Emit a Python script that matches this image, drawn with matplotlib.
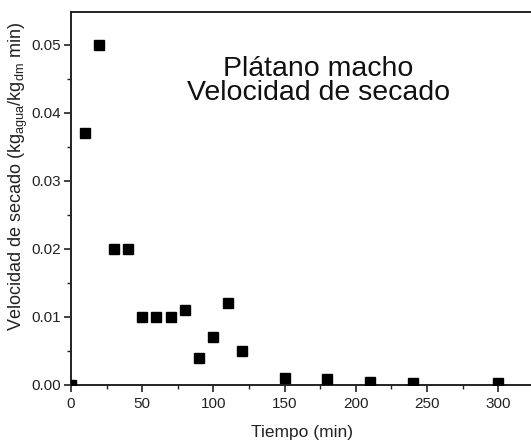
import matplotlib
matplotlib.use("Agg")
import matplotlib.pyplot as plt
from matplotlib.ticker import MultipleLocator, FormatStrFormatter

plt.rcParams['font.family'] = ['Liberation Sans', 'DejaVu Sans']

# Drying-rate data for plantain
tiempo = [0, 10, 20, 30, 40, 50, 60, 70, 80, 90, 100, 110, 120, 150, 180, 210, 240, 300]
velocidad = [0.0, 0.037, 0.050, 0.020, 0.020, 0.010, 0.010, 0.010, 0.011, 0.004,
             0.007, 0.012, 0.005, 0.001, 0.00084, 0.00044, 0.00034, 0.00025]

fig = plt.figure(figsize=(5.31, 4.41), dpi=100)
ax = fig.add_axes([71 / 531, 56 / 441, 1 - 71 / 531, (385 - 12) / 441])

ax.plot(tiempo, velocidad, linestyle='none', marker='s', markersize=6.5,
        color='black', clip_on=True, zorder=3)

ax.set_xlim(0, 323)
ax.set_ylim(0, 0.05485)

ax.xaxis.set_major_locator(MultipleLocator(50))
ax.xaxis.set_minor_locator(MultipleLocator(25))
ax.yaxis.set_major_locator(MultipleLocator(0.01))
ax.yaxis.set_minor_locator(MultipleLocator(0.005))
ax.yaxis.set_major_formatter(FormatStrFormatter('%.2f'))

ax.spines['right'].set_visible(False)
for s in ['left', 'bottom', 'top']:
    ax.spines[s].set_linewidth(1.4)
    ax.spines[s].set_color('#222222')

ax.tick_params(which='major', direction='out', length=5, width=1.2,
               labelsize=11, colors='#222222')
ax.tick_params(axis='x', which='major', pad=4)
ax.tick_params(axis='y', which='major', pad=2)
ax.tick_params(which='minor', direction='out', length=3, width=1.0, colors='#222222')

ax.set_xlabel('Tiempo (min)', fontsize=12.5, color='#222222')
ax.xaxis.set_label_coords((302 - 71) / 460, -(432 - 385) / 373)
ax.set_ylabel(r'Velocidad de secado (kg$_{\mathregular{agua}}$/kg$_{\mathregular{dm}}$ min)',
              fontsize=13, color='#222222')
ax.yaxis.set_label_coords((18 - 71) / 460, (385 - 177) / 373)
ax.yaxis.label.set_va('center')
ax.xaxis.label.set_va('center')

ax.text(173.5, 0.04549, 'Plátano macho', fontsize=20.5, ha='center', va='baseline', color='#111111')
ax.text(173.5, 0.04191, 'Velocidad de secado', fontsize=20.5, ha='center', va='baseline', color='#111111')

fig.savefig('out.png', dpi=100)
